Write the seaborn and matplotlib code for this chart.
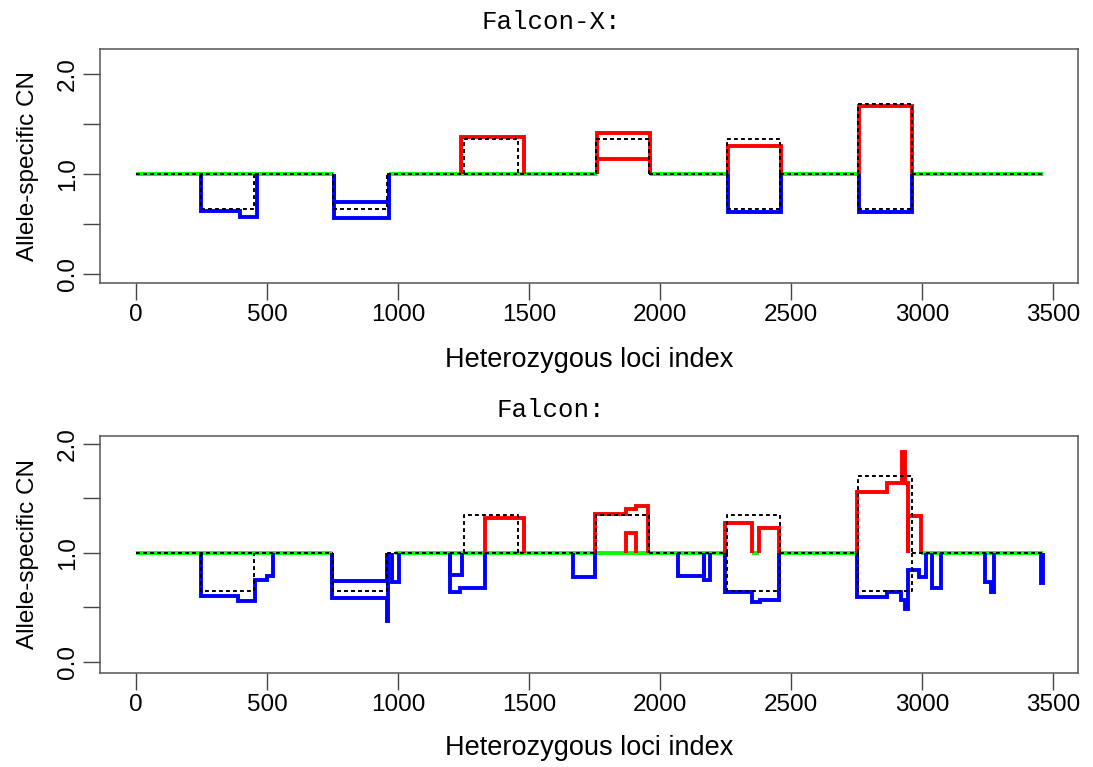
# -*- coding: utf-8 -*-
"""
Nombre de copies allele-specifique : Falcon-X (haut) et Falcon (bas)
Sortie : out.png
"""

import matplotlib
matplotlib.use("Agg")
import matplotlib.pyplot as plt
import seaborn as sns

# Donnees
x_ticks = [0, 500, 1000, 1500, 2000, 2500, 3000, 3500]
y_ticks = [0.0, 0.5, 1.0, 1.5, 2.0]
y_labels = ["0.0", "", "1.0", "", "2.0"]

# Verite terrain (pointilles noirs) : bornes des evenements + niveaux des deux alleles
truth_bounds = [(250, 450), (752, 958), (1252, 1458), (1754, 1958), (2254, 2458), (2755, 2960)]
truth_major = [1.0, 0.65, 1.35, 1.35, 1.35, 1.70]
truth_minor = [0.65, 0.65, 1.0, 1.35, 0.65, 0.65]
truth_flat = [(1, 752), (958, 1754), (1958, 2254), (2458, 2755), (2960, 3460)]

# Falcon-X : segments estimes (bornes, niveaux)
fx_tracks = [
    ([250, 397, 461], [0.63, 0.567]),
    ([757, 965], [0.717]),
    ([757, 965], [0.557]),
    ([1240, 1480], [1.37]),
    ([1758, 1962], [1.41]),
    ([1758, 1962], [1.15]),
    ([2258, 2461], [1.285]),
    ([2258, 2461], [0.625]),
    ([2760, 2963], [1.685]),
    ([2760, 2963], [0.625]),
]
fx_green = [(1, 757), (965, 1758), (1962, 2258), (2461, 2760), (2963, 3460)]

# Falcon : segments estimes (bornes, niveaux)
fal_tracks = [
    ([248, 391, 454, 499, 524], [0.605, 0.555, 0.755, 0.79]),
    ([747, 957], [0.745]),
    ([747, 957, 963], [0.585, 0.38]),
    ([976, 1004], [0.73]),
    ([1198, 1237, 1332], [0.64, 0.68]),
    ([1198, 1243], [0.80]),
    ([1332, 1482], [1.32]),
    ([1669, 1752], [0.78]),
    ([1750, 1870, 1910, 1954], [1.355, 1.40, 1.425]),
    ([1870, 1910], [1.18]),
    ([2068, 2168], [0.79]),
    ([2168, 2190], [0.755]),
    ([2249, 2352], [1.27]),
    ([2379, 2453], [1.225]),
    ([2249, 2352, 2383, 2453], [0.645, 0.55, 0.57]),
    ([2751, 2865, 2925, 2935, 2945], [1.555, 1.635, 1.92, 1.635]),
    ([2948, 2995], [1.34]),
    ([2751, 2865, 2921, 2934, 2948, 2988, 3015], [0.60, 0.645, 0.57, 0.49, 0.844, 0.783]),
    ([3039, 3073], [0.676]),
    ([3240, 3262, 3275], [0.737, 0.64]),
    ([3452, 3460], [0.72]),
]
fal_green = [(1, 747), (990, 2249), (2352, 2379), (2453, 2751), (2995, 3460)]

panneaux = [
    ("Falcon-X:", fx_tracks, fx_green, (-0.09, 2.25)),
    ("Falcon:", fal_tracks, fal_green, (-0.10, 2.07)),
]

# Style
sns.set_theme(style="ticks")
plt.rcParams["font.family"] = ["Liberation Sans", "DejaVu Sans"]
plt.rcParams["text.color"] = "black"
plt.rcParams["axes.labelcolor"] = "black"


def trace_escalier(ax, bornes, niveaux, **kw):
    # escalier qui part de 1.0 et y revient
    xs = [bornes[0]] + list(bornes)
    ys = [1.0] + list(niveaux) + [1.0]
    sns.lineplot(x=xs, y=ys, ax=ax, drawstyle="steps-post", sort=False,
                 estimator=None, **kw)


fig = plt.figure(figsize=(10.93, 7.67), dpi=100)
positions = [[0.0915, 0.631, 0.8948, 0.3051], [0.0915, 0.1226, 0.8948, 0.309]]
titre_y = [0.9713, 0.4655]
xlabel_y = [-0.329, -0.316]
pointille = (0, (2, 1.6))

for i, (titre, tracks, green, ylim) in enumerate(panneaux):
    ax = fig.add_axes(positions[i])

    # ligne verte a 1.0
    for a, b in green:
        sns.lineplot(x=[a, b], y=[1.0, 1.0], ax=ax, color="#00ff00", lw=2.8,
                     solid_capstyle="butt", zorder=2)

    # segments estimes : rouge au-dessus de 1, bleu en dessous
    for bornes, niveaux in tracks:
        couleur = "#ff0000" if max(niveaux) > 1 else "#0000ff"
        trace_escalier(ax, bornes, niveaux, color=couleur, lw=2.8,
                       solid_joinstyle="miter", solid_capstyle="butt", zorder=3)

    # verite terrain en pointilles
    for a, b in truth_flat:
        sns.lineplot(x=[a, b], y=[1.0, 1.0], ax=ax, color="black", lw=1.4,
                     linestyle=pointille, zorder=4)
    for (a, b), vM, vm in zip(truth_bounds, truth_major, truth_minor):
        for v in (vM, vm):
            if v != 1.0:
                trace_escalier(ax, [a, b], [v], color="black", lw=1.4,
                               linestyle=pointille, zorder=4)

    ax.set_xlim(-137, 3595)
    ax.set_ylim(*ylim)
    ax.set_xticks(x_ticks)
    ax.set_xticklabels([str(t) for t in x_ticks])
    ax.set_yticks(y_ticks)
    ax.set_yticklabels(y_labels, rotation=90, va="center")
    ax.tick_params(direction="out", length=12, width=1, color="#444444",
                   labelsize=17.5, pad=3, labelcolor="black")
    for sp in ax.spines.values():
        sp.set_visible(True)
        sp.set_color("#555555")
        sp.set_linewidth(1.1)

    ax.set_xlabel("Heterozygous loci index", fontsize=19.5, va="center")
    ax.xaxis.set_label_coords(0.5, xlabel_y[i])
    ax.set_ylabel("Allele-specific CN", fontsize=17.5, va="center")
    ax.yaxis.set_label_coords(-0.0736, 0.5)

    fig.text(0.504, titre_y[i], titre, family="Liberation Mono", fontsize=18.5,
             ha="center", va="center", color="black")

fig.savefig("out.png", dpi=100)
